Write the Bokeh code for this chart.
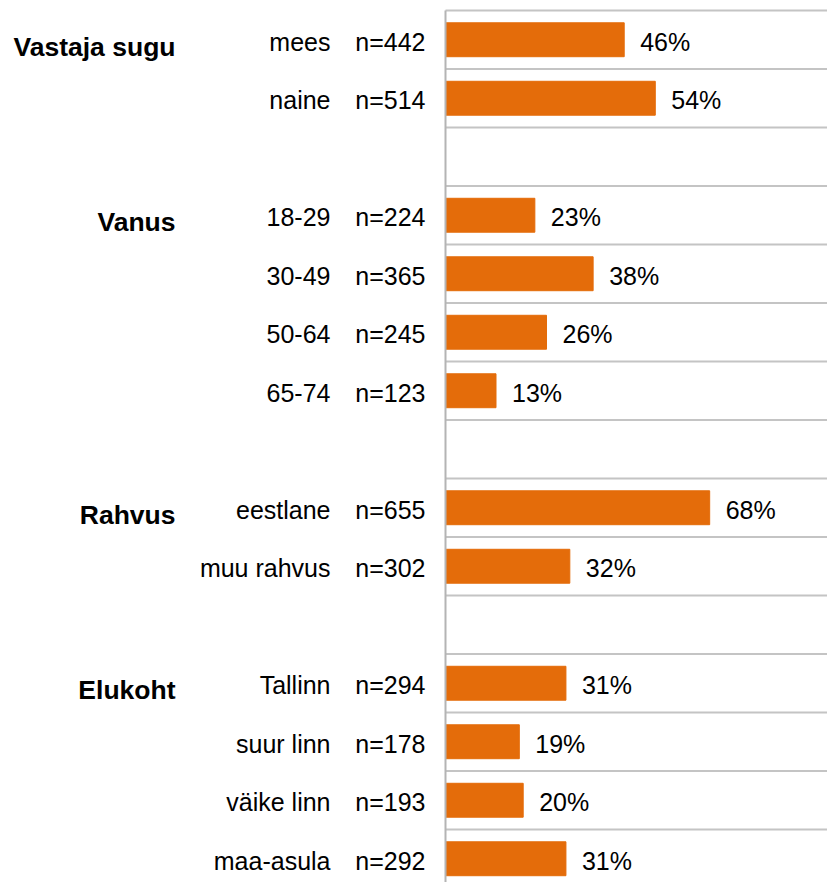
from bokeh.plotting import figure
from bokeh.models import ColumnDataSource, Range1d
from bokeh.core.properties import value
from bokeh.embed import file_html
from bokeh.resources import INLINE

groups = ["Vastaja sugu", "Vanus", "Rahvus", "Elukoht"]
categories = ["mees", "naine", "18-29", "30-49", "50-64", "65-74",
              "eestlane", "muu rahvus", "Tallinn", "suur linn", "väike linn", "maa-asula"]
category_group = ["Vastaja sugu", "Vastaja sugu", "Vanus", "Vanus", "Vanus", "Vanus",
                  "Rahvus", "Rahvus", "Elukoht", "Elukoht", "Elukoht", "Elukoht"]
n_counts = [442, 514, 224, 365, 245, 123, 655, 302, 294, 178, 193, 292]
shares = [46, 54, 23, 38, 26, 13, 68, 32, 31, 19, 20, 31]

# slot positions: one row per category, one empty row between groups
slots = []
group_first_slot = {}
slot = 0
prev = None
for g in category_group:
    if prev is not None and g != prev:
        slot += 1
    slots.append(slot)
    group_first_slot.setdefault(g, slot)
    slot += 1
    prev = g
n_slots = slot

FONT = "Liberation Sans"
FS = "25px"
ORANGE = "#E46C0A"
GRID = "#C4C4C4"

PX_PER_UNIT = 3.885
SLOT_PX = 58.5
x_start = -445 / PX_PER_UNIT
x_end = (827 - 445) / PX_PER_UNIT
y_top = -0.5 - 2 / SLOT_PX
y_bottom = y_top + 874 / SLOT_PX

p = figure(width=827, height=882,
           x_range=Range1d(x_start, x_end), y_range=Range1d(y_bottom, y_top),
           x_axis_location=None, y_axis_location=None,
           output_backend="svg", toolbar_location=None,
           min_border_left=0, min_border_right=0, min_border_top=8, min_border_bottom=0)
p.outline_line_color = None
p.background_fill_color = "white"
p.border_fill_color = "white"
for gr in p.grid:
    gr.visible = False

# horizontal gridlines at slot boundaries (bar area only)
bounds = [k - 0.5 for k in range(n_slots + 1)]
p.segment(x0=[0] * len(bounds), x1=[x_end] * len(bounds), y0=bounds, y1=bounds,
          line_color=GRID, line_width=2)

src = ColumnDataSource(dict(y=slots, share=shares, cat=categories,
                            n=[f"n={v}" for v in n_counts],
                            pct=[f"{v}%" for v in shares],
                            zero=[0] * len(shares)))

p.hbar(y="y", left=0, right="share", height=0.58, source=src,
       fill_color=ORANGE, line_color=ORANGE)

# vertical axis line
p.segment(x0=[0], x1=[0], y0=[-0.5], y1=[y_bottom], line_color="#B4B4B4", line_width=2)

common = dict(text_baseline="middle", text_font=value(FONT), text_font_size=FS,
              text_color="black", y_offset=2)
p.text(x="share", y="y", text="pct", source=src, x_offset=16, text_align="left", **common)
p.text(x="zero", y="y", text="n", source=src, x_offset=-20, text_align="right", **common)
p.text(x="zero", y="y", text="cat", source=src, x_offset=-115, text_align="right", **common)

gsrc = ColumnDataSource(dict(y=[group_first_slot[g] for g in groups], g=groups,
                             zero=[0] * len(groups)))
p.text(x="zero", y="y", text="g", source=gsrc, x_offset=-270, y_offset=7,
       text_align="right", text_baseline="middle",
       text_font=value(FONT), text_font_size="26.5px", text_font_style="bold",
       text_color="black")

open("out.html", "w").write(file_html(p, INLINE))
